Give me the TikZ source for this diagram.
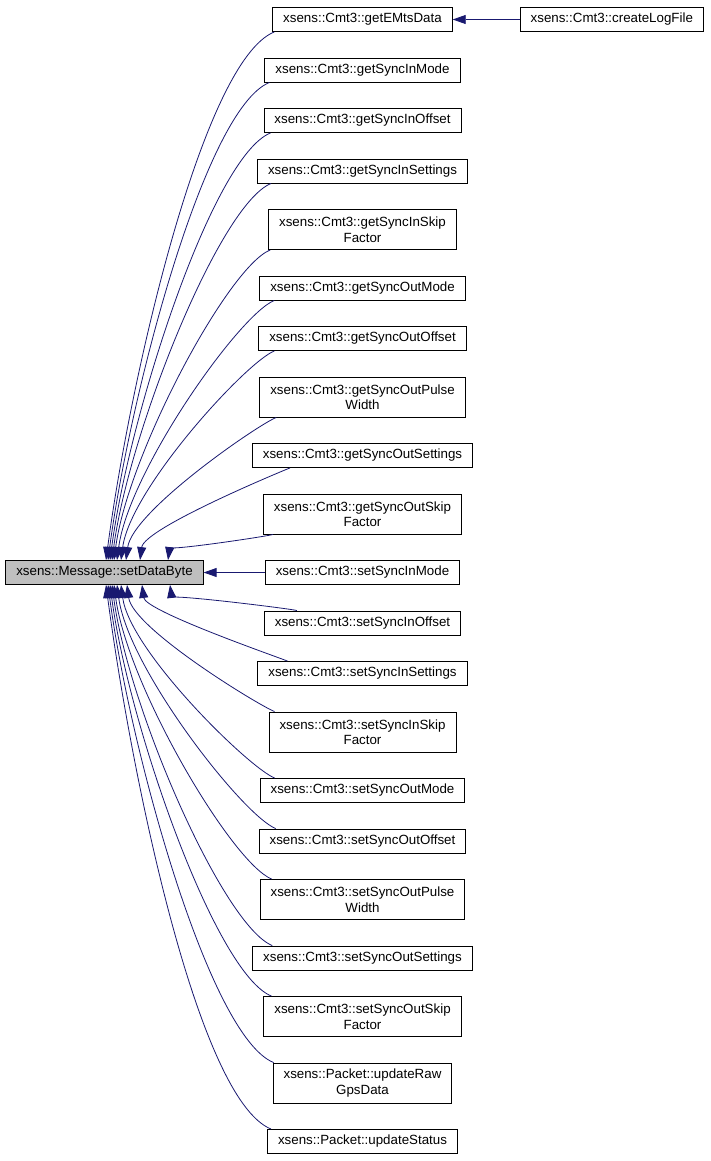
\documentclass[tikz,border=0pt]{standalone}
\usepackage{fontspec}
\setmainfont{Liberation Sans}
\usetikzlibrary{arrows.meta,positioning}

\definecolor{callblue}{RGB}{25,25,112}
\definecolor{selfgray}{RGB}{191,191,191}

\tikzset{
  fn/.style={draw=black,line width=0.9pt,fill=white,align=center,
             font=\fontsize{13.33}{15.5}\selectfont,
             inner xsep=10.5pt,inner ysep=4.6pt,minimum height=24pt},
  fntwo/.style={fn,minimum height=40pt},
  selffn/.style={fn,fill=selfgray},
  call/.style={draw=callblue,line width=0.8pt}
}

\begin{document}
\begin{tikzpicture}[x=1pt,y=-1pt,->,>={Triangle[length=13pt,width=9pt]},
                    node distance=25.6pt and 67pt]
  \useasboundingbox (0,0) rectangle (711,1161);

  \node[fn]    (getEMts)        at (362.5,19.5) {xsens::Cmt3::getEMtsData};
  \node[fn]    (createLog)      [right=of getEMts] {xsens::Cmt3::createLogFile};
  \node[fn]    (getInMode)      [below=of getEMts] {xsens::Cmt3::getSyncInMode};
  \node[fn]    (getInOffset)    [below=of getInMode] {xsens::Cmt3::getSyncInOffset};
  \node[fn]    (getInSettings)  [below=of getInOffset] {xsens::Cmt3::getSyncInSettings};
  \node[fntwo] (getInSkip)      [below=of getInSettings] {xsens::Cmt3::getSyncInSkip\\Factor};
  \node[fn]    (getOutMode)     [below=of getInSkip] {xsens::Cmt3::getSyncOutMode};
  \node[fn]    (getOutOffset)   [below=of getOutMode] {xsens::Cmt3::getSyncOutOffset};
  \node[fntwo] (getOutPulse)    [below=of getOutOffset] {xsens::Cmt3::getSyncOutPulse\\Width};
  \node[fn]    (getOutSettings) [below=of getOutPulse] {xsens::Cmt3::getSyncOutSettings};
  \node[fntwo] (getOutSkip)     [below=of getOutSettings] {xsens::Cmt3::getSyncOutSkip\\Factor};
  \node[fn]    (setInMode)      [below=of getOutSkip] {xsens::Cmt3::setSyncInMode};
  \node[fn]    (setInOffset)    [below=of setInMode] {xsens::Cmt3::setSyncInOffset};
  \node[fn]    (setInSettings)  [below=of setInOffset] {xsens::Cmt3::setSyncInSettings};
  \node[fntwo] (setInSkip)      [below=of setInSettings] {xsens::Cmt3::setSyncInSkip\\Factor};
  \node[fn]    (setOutMode)     [below=of setInSkip] {xsens::Cmt3::setSyncOutMode};
  \node[fn]    (setOutOffset)   [below=of setOutMode] {xsens::Cmt3::setSyncOutOffset};
  \node[fntwo] (setOutPulse)    [below=of setOutOffset] {xsens::Cmt3::setSyncOutPulse\\Width};
  \node[fn]    (setOutSettings) [below=of setOutPulse] {xsens::Cmt3::setSyncOutSettings};
  \node[fntwo] (setOutSkip)     [below=of setOutSettings] {xsens::Cmt3::setSyncOutSkip\\Factor};
  \node[fntwo] (updateRaw)      [below=of setOutSkip] {xsens::Packet::updateRaw\\GpsData};
  \node[fn]    (updateStatus)   [below=of updateRaw] {xsens::Packet::updateStatus};

  \node[selffn] (setDataByte) at (104.5,0 |- setInMode) {xsens::Message::setDataByte};

  % callers above the function
  \foreach \fn/\ax/\tx/\d in {getEMts/2/1.5/529, getInMode/5/3.5/478.5,
      getInOffset/7/5.5/428, getInSettings/14/7.5/377.5, getInSkip/2/9.5/311,
      getOutMode/15/12.5/260.5, getOutOffset/16/16.5/210,
      getOutPulse/17/21.5/143.5, getOutSettings/38/35.5/93,
      getOutSkip/10/63.5/26.5}
    \draw[call] ([xshift=\ax pt]\fn.south west)
      .. controls +(-0.136*\d,0.055*\d) and +(0.045*\d,-0.34*\d)
      .. ([xshift=\tx pt]setDataByte.north);

  % callers below the function
  \foreach \fn/\ax/\tx/\d in {setInOffset/33/65.5/26.5, setInSettings/30/37.5/77,
      setInSkip/6/22.5/127.5, setOutMode/15/16.5/194, setOutOffset/17/12.5/244.5,
      setOutPulse/12/9.5/295, setOutSettings/20/7.5/361.5,
      setOutSkip/8/5.5/412, updateRaw/1/3.5/478.5, updateStatus/4/1.5/545}
    \draw[call] ([xshift=\ax pt]\fn.north west)
      .. controls +(-0.136*\d,-0.055*\d) and +(0.045*\d,0.34*\d)
      .. ([xshift=\tx pt]setDataByte.south);

  \draw[call] (setInMode) -- (setDataByte);
  \draw[call] (createLog) -- (getEMts);
\end{tikzpicture}
\end{document}
